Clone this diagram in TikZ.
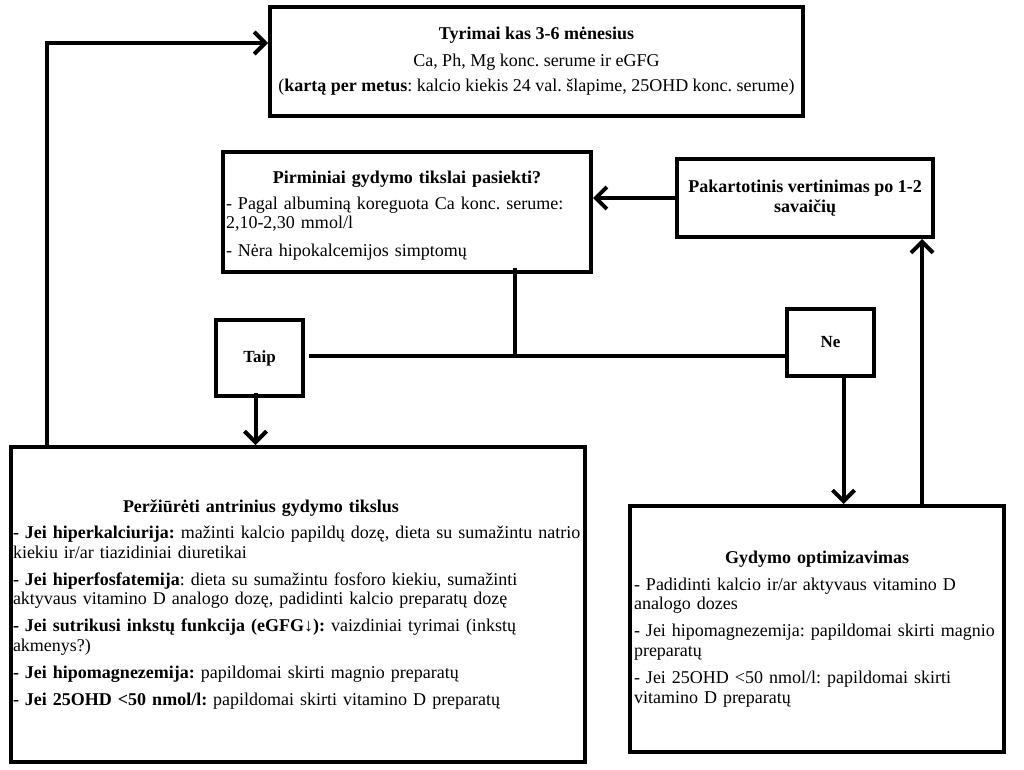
\documentclass[tikz,border=0pt]{standalone}
\usepackage{fontspec}
\setmainfont{Liberation Serif}
\usetikzlibrary{arrows.meta}
\frenchspacing
\setlength{\parindent}{0pt}

\begin{document}
\begin{tikzpicture}[x=1pt, y=-1pt,
  box/.style={draw, line width=4pt, inner xsep=4pt, inner ysep=2pt,
    font=\fontsize{18}{19.5}\selectfont},
  link/.style={line width=4pt},
  arr/.style={line width=4pt, -{Straight Barb[length=11pt, width=22pt]}}]
  \useasboundingbox (0,0) rectangle (1024,770);

  % Boxes
  \node[box, align=center, minimum width=533, minimum height=109] (tests) at (536.5,61.5)
    {\textbf{Tyrimai kas 3-6 mėnesius}\\[7pt]
     Ca, Ph, Mg konc. serume ir eGFG\\[6pt]
     (\textbf{kartą per metus}: kalcio kiekis 24 val. šlapime, 25OHD konc. serume)};
  \node[box, inner xsep=3pt, align=left, text width=362, minimum height=120] (goals) at (407,212)
    {\rule{0pt}{20pt}\makebox[\hsize]{\textbf{Pirminiai gydymo tikslai pasiekti?}}\\[6pt]
     - Pagal albuminą koreguota Ca konc. serume:\\
     2,10-2,30 mmol/l\\[8pt]
     - Nėra hipokalcemijos simptomų};
  \node[box, align=center, minimum width=256, minimum height=78] (recheck) at (805,198)
    {\textbf{Pakartotinis vertinimas po 1-2}\\ \textbf{savaičių}};
  \node[box, font=\fontsize{17}{19}\selectfont\bfseries, minimum width=87, minimum height=76] (yes) at (259.5,358) {Taip};
  \node[box, font=\fontsize{17}{19}\selectfont\bfseries, minimum width=87, minimum height=67] (no) at (830.5,342.5) {Ne};
  \node[box, inner xsep=2pt, align=left, text width=570, minimum height=315] (secondary) at (298,604.5)
    {\makebox[496pt]{\textbf{Peržiūrėti antrinius gydymo tikslus}}\\[7pt]
     \mbox{\textbf{- Jei hiperkalciurija:} mažinti kalcio papildų dozę, dieta su sumažintu natrio}\\
     kiekiu ir/ar tiazidiniai diuretikai\\[7.5pt]
     \textbf{- Jei hiperfosfatemija}: dieta su sumažintu fosforo kiekiu, sumažinti\\
     aktyvaus vitamino D analogo dozę, padidinti kalcio preparatų dozę\\[7.5pt]
     \textbf{- Jei sutrikusi inkstų funkcija (eGFG↓):} vaizdiniai tyrimai (inkstų\\
     akmenys?)\\[7.5pt]
     \textbf{- Jei hipomagnezemija:} papildomai skirti magnio preparatų\\[7.5pt]
     \textbf{- Jei 25OHD <50 nmol/l:} papildomai skirti vitamino D preparatų};
  \node[box, align=left, text width=366, minimum height=246] (optimize) at (817,629)
    {\makebox[\hsize]{\textbf{Gydymo optimizavimas}}\\[7pt]
     - Padidinti kalcio ir/ar aktyvaus vitamino D\\
     analogo dozes\\[7.5pt]
     - Jei hipomagnezemija: papildomai skirti magnio\\
     preparatų\\[8pt]
     - Jei 25OHD <50 nmol/l: papildomai skirti\\
     vitamino D preparatų};

  % Connectors
  \coordinate (split) at (515,356);
  \coordinate (loop) at (47,43);
  \draw[link] ([yshift=6]goals.south -| split) -- (split);
  \draw[link] ([xshift=4]split -| yes.east) -- (split -| no.west);
  \draw[arr] ([xshift=-4,yshift=5]yes.south) -- ([xshift=-4]yes.south |- secondary.north);
  \draw[arr] ([xshift=13]no.south) -- ([xshift=13]no.south |- optimize.north);
  \draw[arr] ([xshift=105]optimize.north) -- ([xshift=105]optimize.north |- recheck.south);
  \draw[arr] (recheck.west) -- (recheck.west -| goals.east);
  \draw[arr] (secondary.north -| loop) -- (loop) -- (loop -| tests.west);
\end{tikzpicture}
\end{document}
